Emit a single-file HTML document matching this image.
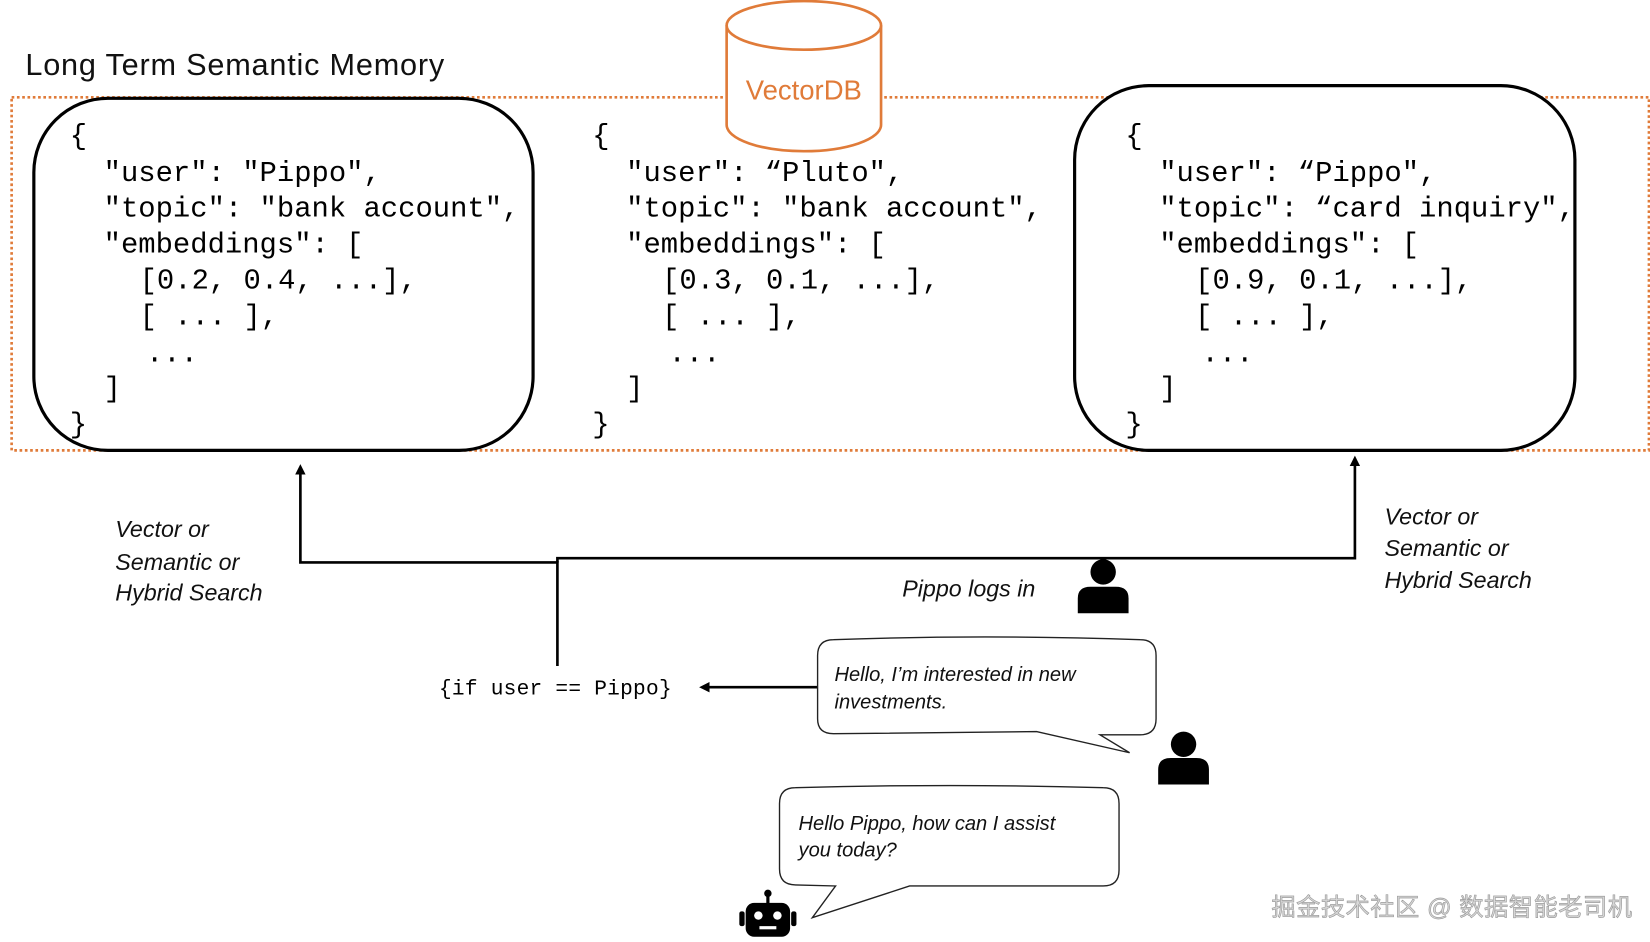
<!DOCTYPE html>
<html><head><meta charset="utf-8"><style>
html,body{margin:0;padding:0;background:#fff;width:1650px;height:942px;overflow:hidden}
svg{display:block}
.m{font-family:"Liberation Mono",monospace;font-size:27.3px;fill:#000}
.i{font-family:"Liberation Sans",sans-serif;font-style:italic;fill:#111}
</style></head><body>
<svg width="1650" height="942" viewBox="0 0 1560 891" preserveAspectRatio="none" xmlns="http://www.w3.org/2000/svg">
<defs><marker id="ah" markerWidth="10" markerHeight="10" refX="5" refY="5" orient="auto" markerUnits="userSpaceOnUse"><path d="M0,0 L10,5 L0,10 z" fill="#000"/></marker></defs>
<text x="24" y="71" font-family="Liberation Sans, sans-serif" font-size="29" textLength="396" fill="#111">Long Term Semantic Memory</text>
<rect x="11" y="92" width="1548" height="334" fill="none" stroke="#E07B39" stroke-width="2.5" stroke-dasharray="2.5,2.5"/>
<rect x="32" y="93" width="472" height="333" rx="70" fill="#fff" stroke="#000" stroke-width="3"/>
<rect x="1016" y="81" width="473" height="345" rx="70" fill="#fff" stroke="#000" stroke-width="3"/>
<path d="M687,24 L687,118 A73,25 0 0 0 833,118 L833,24" fill="#fff" stroke="#E07B39" stroke-width="2.5"/>
<ellipse cx="760" cy="24" rx="73" ry="23" fill="#fff" stroke="#E07B39" stroke-width="2.5"/>
<text x="760" y="94" text-anchor="middle" font-family="Liberation Sans, sans-serif" font-size="26" fill="#E07B39">VectorDB</text>
<g class="m">
<text x="66" y="136">{</text>
<text x="98" y="171">"user": "Pippo",</text>
<text x="98" y="205">"topic": "bank account",</text>
<text x="98" y="239">"embeddings": [</text>
<text x="132" y="273">[0.2, 0.4,  ...],</text>
<text x="132" y="307">[  ... ],</text>
<text x="138" y="342">...</text>
<text x="98" y="375">]</text>
<text x="66" y="409">}</text>
<text x="560" y="136">{</text>
<text x="592" y="171">"user": “Pluto",</text>
<text x="592" y="205">"topic": "bank account",</text>
<text x="592" y="239">"embeddings": [</text>
<text x="626" y="273">[0.3, 0.1,  ...],</text>
<text x="626" y="307">[  ... ],</text>
<text x="632" y="342">...</text>
<text x="592" y="375">]</text>
<text x="560" y="409">}</text>
<text x="1064" y="136">{</text>
<text x="1096" y="171">"user": “Pippo",</text>
<text x="1096" y="205">"topic": “card inquiry",</text>
<text x="1096" y="239">"embeddings": [</text>
<text x="1130" y="273">[0.9, 0.1,  ...],</text>
<text x="1130" y="307">[  ... ],</text>
<text x="1136" y="342">...</text>
<text x="1096" y="375">]</text>
<text x="1064" y="409">}</text>
</g>
<g fill="none" stroke="#000" stroke-width="2.5">
<path d="M527,630 L527,532 L284,532 L284,444" marker-end="url(#ah)"/>
<path d="M527,532 L527,528 L1281,528 L1281,436" marker-end="url(#ah)"/>
<path d="M773,650 L666,650" marker-end="url(#ah)"/>
</g>
<g class="i" font-size="22">
<text x="109" y="508">Vector or</text>
<text x="109" y="539">Semantic or</text>
<text x="109" y="568">Hybrid Search</text>
<text x="1309" y="496">Vector or</text>
<text x="1309" y="526">Semantic or</text>
<text x="1309" y="556">Hybrid Search</text>
<text x="853" y="564">Pippo logs in</text>
</g>
<text x="415" y="657" font-family="Liberation Mono, monospace" font-size="20" textLength="220">{if user == Pippo}</text>
<g fill="#000">
<circle cx="1043" cy="541" r="12"/>
<path d="M1019,580 L1019,566 Q1019,555 1031,555 L1055,555 Q1067,555 1067,566 L1067,580 z"/>
<circle cx="1119" cy="704" r="12"/>
<path d="M1095,742 L1095,728 Q1095,717 1107,717 L1131,717 Q1143,717 1143,728 L1143,742 z"/>
</g>
<path d="M788,605 Q930,600 1078,605 Q1093,605 1093,620 L1093,680 Q1093,695 1078,695 L1040,695 L1068,712 L980,692 L788,694 Q773,694 773,680 L773,620 Q773,605 788,605 z" fill="#fff" stroke="#222" stroke-width="1.3"/>
<text class="i" font-size="19" x="789" y="644">Hello, I’m interested in new</text>
<text class="i" font-size="19" x="789" y="670">investments.</text>
<path d="M752,745 Q900,741 1043,745 Q1058,745 1058,760 L1058,823 Q1058,838 1043,838 L860,838 L768,868 L790,838 L752,837 Q737,837 737,822 L737,760 Q737,745 752,745 z" fill="#fff" stroke="#222" stroke-width="1.3"/>
<text class="i" font-size="19" x="755" y="785">Hello Pippo, how can I assist</text>
<text class="i" font-size="19" x="755" y="810">you today?</text>
<g fill="#000">
<circle cx="726" cy="845" r="3.5"/>
<rect x="724.5" y="847" width="3" height="8"/>
<rect x="705" y="854" width="42" height="32" rx="8"/>
<rect x="699" y="862" width="5" height="14" rx="2"/>
<rect x="748" y="862" width="5" height="14" rx="2"/>
</g>
<g fill="#fff">
<circle cx="717" cy="866" r="4"/><circle cx="735" cy="866" r="4"/>
<rect x="718" y="876" width="16" height="3"/>
</g>
<text x="1202" y="866" font-family="Liberation Sans, 'Noto Sans CJK SC', sans-serif" font-size="23" fill="#d8d8d8" stroke="#9a9a9a" stroke-width="0.6" textLength="341">掘金技术社区 @ 数据智能老司机</text>
</svg>
</body></html>
